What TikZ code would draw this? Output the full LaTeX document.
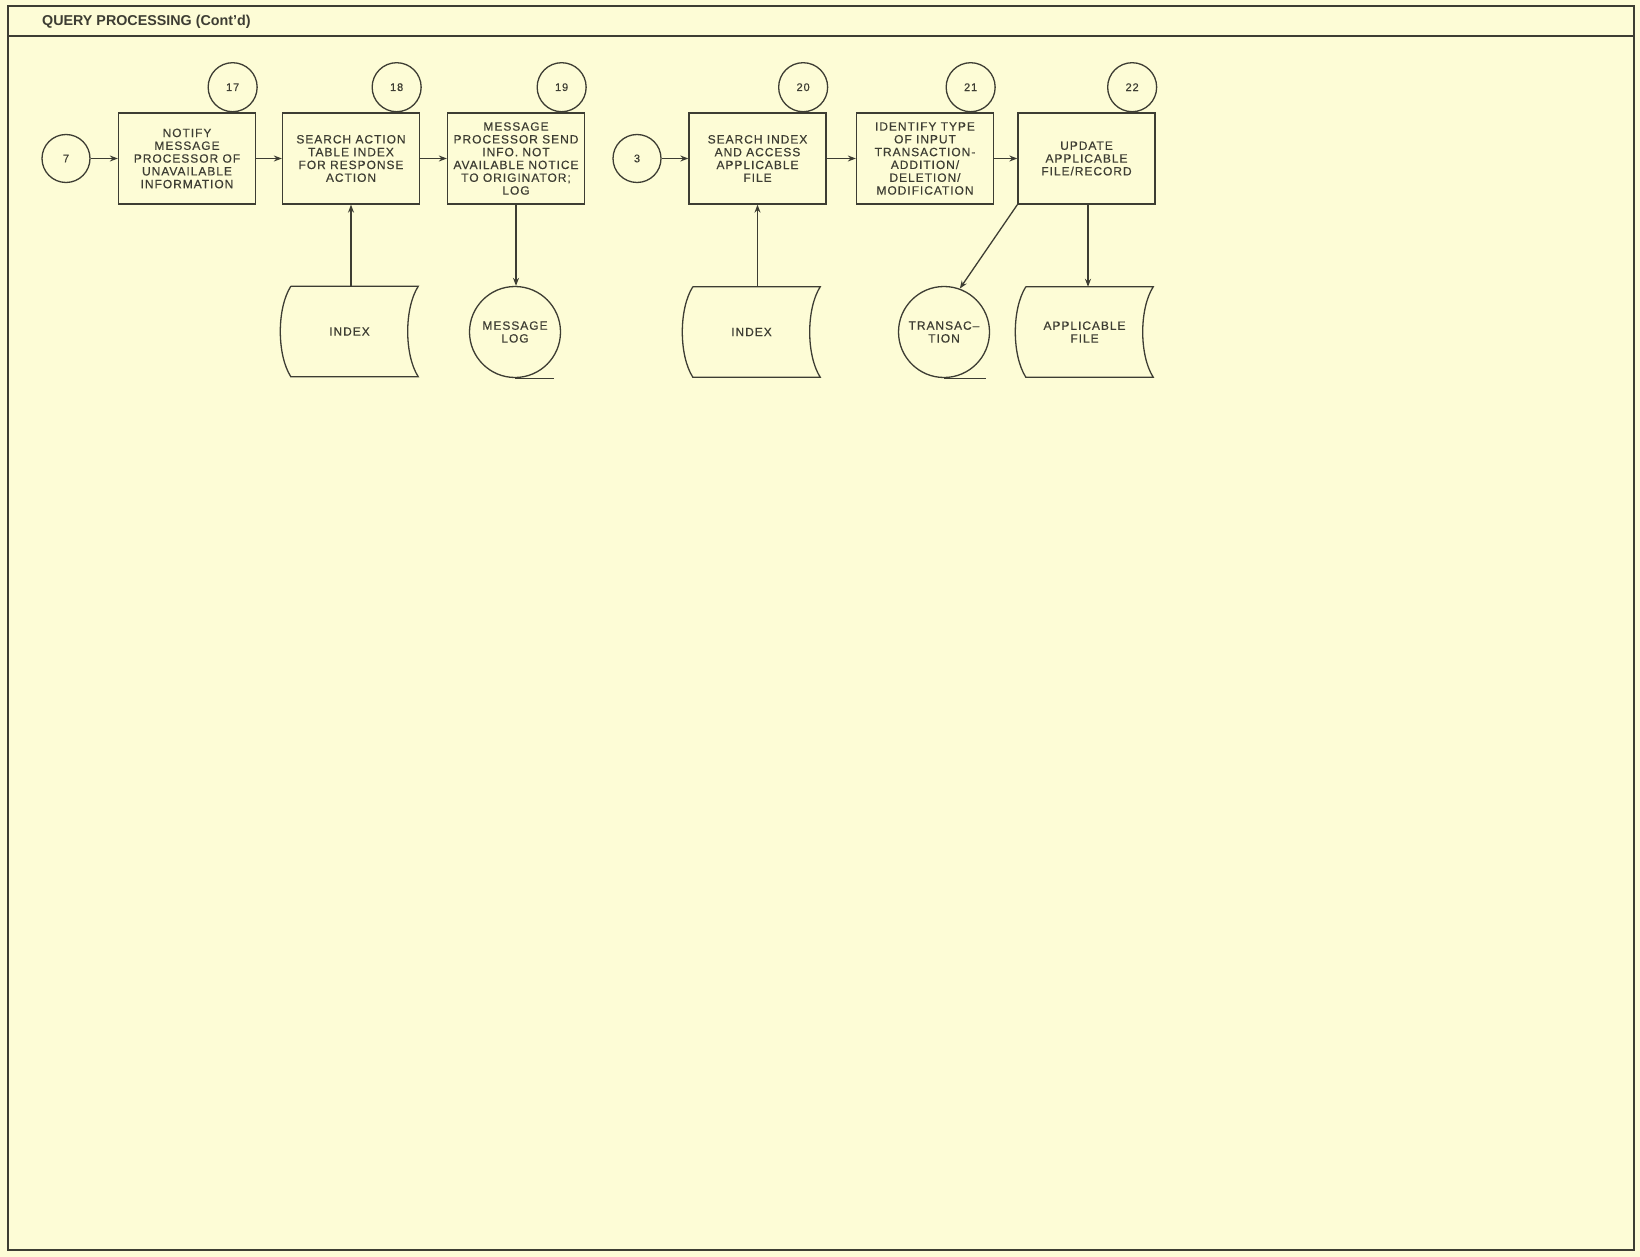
\documentclass[tikz,border=0pt]{standalone}
\usepackage{fontspec}
\setmainfont{Liberation Sans}
\newfontfamily\boxfont[LetterSpace=8,FakeBold=0.4]{Liberation Sans}
\usetikzlibrary{calc,arrows.meta}
\definecolor{paper}{HTML}{FDFCD6}
\definecolor{ink}{HTML}{3D3D33}
\newcommand\storeshape[1]{%
  \draw[ln] ([xshift=5pt]#1.north west) -- ([xshift=5pt]#1.north east)
    .. controls ([xshift=-9pt,yshift=-22pt]#1.north east) and ([xshift=-9pt,yshift=22pt]#1.south east) .. ([xshift=5pt]#1.south east)
    -- ([xshift=5pt]#1.south west)
    .. controls ([xshift=-9pt,yshift=22pt]#1.south west) and ([xshift=-9pt,yshift=-22pt]#1.north west) .. ([xshift=5pt]#1.north west);}
\begin{document}
\begin{tikzpicture}[x=1pt,y=-1pt,
  ln/.style={draw=ink, line width=1.3pt},
  txt/.style={text=ink, font=\boxfont\fontsize{12}{12.8}\selectfont, align=center},
  proc/.style={ln, txt, rectangle, minimum width=137pt, minimum height=91pt, inner sep=0pt},
  numc/.style={ln, circle, minimum size=49pt, inner sep=0pt, text=ink, font=\boxfont\fontsize{11}{12}\selectfont},
  tape/.style={ln, txt, circle, minimum size=91pt, inner sep=0pt},
  store/.style={txt, rectangle, minimum width=127pt, minimum height=90pt, inner sep=0pt},
  arr/.style={draw=ink, line width=1.3pt, -{Stealth[length=8pt,width=6pt]}}
]
\useasboundingbox (0,0) rectangle (1640,1257);
\fill[paper] (0,0) rectangle (1640,1257);
% frame
\draw[ink, line width=2pt] (8,6) rectangle (1634,1250);
\draw[ink, line width=2pt] (8,36) -- (1634,36);
\node[anchor=west, text=ink, font=\bfseries\fontsize{14.3}{16}\selectfont, inner sep=0pt] (title) at (42,22) {QUERY PROCESSING (Cont'd)};

% process boxes
\node[proc] (b17) at (187,158.5) {NOTIFY\\MESSAGE\\PROCESSOR OF\\UNAVAILABLE\\INFORMATION};
\node[proc] (b18) at (351,158.5) {SEARCH ACTION\\TABLE INDEX\\FOR RESPONSE\\ACTION};
\node[proc] (b19) at (516,158.5) {MESSAGE\\PROCESSOR SEND\\INFO. NOT\\AVAILABLE NOTICE\\TO ORIGINATOR;\\LOG};
\node[proc] (b20) at (757.5,158.5) {SEARCH INDEX\\AND ACCESS\\APPLICABLE\\FILE};
\node[proc] (b21) at (925,158.5) {IDENTIFY TYPE\\OF INPUT\\TRANSACTION-\\ADDITION/\\DELETION/\\MODIFICATION};
\node[proc] (b22) at (1086.5,158.5) {UPDATE\\APPLICABLE\\FILE/RECORD};

% step numbers
\node[numc, anchor=south] (c17) at ([xshift=-23.5pt]b17.north east) {17};
\node[numc, anchor=south] (c18) at ([xshift=-23.5pt]b18.north east) {18};
\node[numc, anchor=south] (c19) at ([xshift=-23.5pt]b19.north east) {19};
\node[numc, anchor=south] (c20) at ([xshift=-23.5pt]b20.north east) {20};
\node[numc, anchor=south] (c21) at ([xshift=-23.5pt]b21.north east) {21};
\node[numc, anchor=south] (c22) at ([xshift=-23.5pt]b22.north east) {22};

% connectors (entry points)
\node[numc, minimum size=48pt] (c7) at (66,158.5) {7};
\node[numc, minimum size=48pt] (c3) at (637,158.5) {3};

% storage
\node[store] (idx1) at (349.5,331.5) {INDEX};
\storeshape{idx1}
\node[store] (idx2) at (751.5,332) {INDEX};
\storeshape{idx2}
\node[store] (appf) at (1084.5,332) {APPLICABLE\\FILE};
\storeshape{appf}

% tapes
\node[tape] (mlog) at (515,332) {MESSAGE\\LOG};
\draw[ln] (mlog.south) -- ++(39,0);
\node[tape] (trans) at (944,332) {TRANSAC\textendash\\TION};
\draw[ln] (trans.south) -- ++(42,0);

% arrows
\draw[arr] (c7) -- (b17);
\draw[arr] (b17) -- (b18);
\draw[arr] (b18) -- (b19);
\draw[arr] (c3) -- (b20);
\draw[arr] (b20) -- (b21);
\draw[arr] (b21) -- (b22);
\draw[arr] (b18.south |- idx1.north) -- (b18.south);
\draw[arr] (b19.south) -- (b19.south |- mlog.north);
\draw[arr] (b20.south |- idx2.north) -- (b20.south);
\draw[arr] (b22.south west) -- (trans.70);
\draw[arr] ([xshift=1.5pt]b22.south) -- ([xshift=1.5pt]b22.south |- appf.north);
\end{tikzpicture}
\end{document}
